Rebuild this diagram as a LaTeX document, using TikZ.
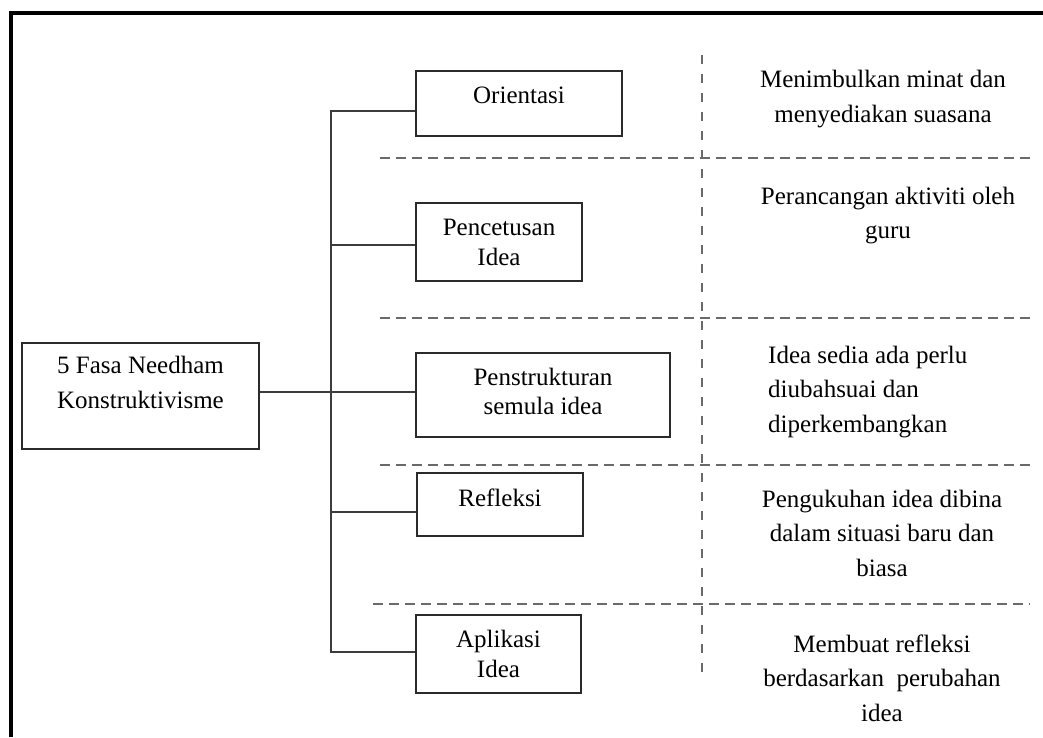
\documentclass[tikz,border=0pt]{standalone}
\usepackage{fontspec}
\setmainfont{Liberation Serif}
\definecolor{boxc}{HTML}{2A2A2A}
\definecolor{connc}{HTML}{3C3C3C}
\definecolor{dashc}{HTML}{6A6A6A}
\tikzset{
  box/.style={draw=boxc, line width=1.8pt, inner sep=0pt, fill=none},
  conn/.style={draw=connc, line width=1.8pt},
  hdash/.style={draw=dashc, line width=2.4pt, dash pattern=on 10pt off 6pt},
  vdash/.style={draw=dashc, line width=2pt, dash pattern=on 9pt off 10pt},
  btxt/.style={font=\fontsize{25}{29.5}\selectfont, inner sep=0pt, align=center},
  rtxt/.style={font=\fontsize{25}{34.5}\selectfont, inner sep=0pt, align=center},
  frame/.style={draw=black, line width=4pt}
}
\begin{document}
\begin{tikzpicture}[x=1pt,y=-1pt]
\useasboundingbox (0,0) rectangle (1043,737);
% frame (top and left)
\coordinate (f1) at (11,737);
\coordinate (f2) at (11,13);
\coordinate (f3) at (1043,13);
\draw[frame] (f1) -- (f2) -- (f3);

% boxes
\node[box, minimum width=237pt, minimum height=106pt] (root) at (140.5,396) {};
\node[btxt, font=\fontsize{25}{35}\selectfont] (rootT) at (140.5,382.5) {5 Fasa Needham\\Konstruktivisme};

\node[box, minimum width=206pt, minimum height=65pt] (ori) at (519,103.5) {};
\node[btxt] (oriT) at (519,95) {Orientasi};

\node[box, minimum width=166pt, minimum height=78pt] (pen) at (499,242) {};
\node[btxt] (penT) at (499,242.5) {Pencetusan\\Idea};

\node[box, minimum width=254pt, minimum height=84pt] (pens) at (543,395) {};
\node[btxt] (pensT) at (543,391.5) {Penstrukturan\\semula idea};

\node[box, minimum width=166pt, minimum height=63pt] (ref) at (500,504.5) {};
\node[btxt] (refT) at (500,498) {Refleksi};

\node[box, minimum width=165pt, minimum height=78pt] (apl) at (498.5,654) {};
\node[btxt] (aplT) at (498.5,654) {Aplikasi\\Idea};

% trunk and branches
\coordinate (b1) at (331,111);
\coordinate (b2) at (331,245);
\coordinate (b3) at (331,392);
\coordinate (b4) at (331,512);
\coordinate (b5) at (331,652);
\draw[conn] (ori.west |- b1) -- (b1) -- (b5) -- (apl.west |- b5);
\draw[conn] (b2) -- (pen.west |- b2);
\draw[conn] (root.east |- b3) -- (pens.west |- b3);
\draw[conn] (b4) -- (ref.west |- b4);

% dashed separators
\coordinate (d1a) at (380,158);  \coordinate (d1b) at (1030,158);
\coordinate (d2a) at (380,318);  \coordinate (d2b) at (1030,318);
\coordinate (d3a) at (380,465);  \coordinate (d3b) at (1030,465);
\coordinate (d4a) at (373,604);  \coordinate (d4b) at (1030,604);
\coordinate (va) at (702,55);    \coordinate (vb) at (702,677);
\draw[hdash] (d1a) -- (d1b);
\draw[hdash] (d2a) -- (d2b);
\draw[hdash] (d3a) -- (d3b);
\draw[hdash] (d4a) -- (d4b);
\draw[vdash] (va) -- (vb);

% right-hand descriptions
\node[rtxt] (t1) at (883,99) {Menimbulkan minat dan\\menyediakan suasana};
\node[rtxt] (t2) at (888,215.5) {Perancangan aktiviti oleh\\guru};
\node[rtxt, align=left, anchor=west] (t3) at (768,392) {Idea sedia ada perlu\\diubahsuai dan\\diperkembangkan};
\node[rtxt] (t4) at (882,533) {Pengukuhan idea dibina\\dalam situasi baru dan\\biasa};
\node[rtxt] (t5) at (882,678) {Membuat refleksi\\berdasarkan\ \ perubahan\\idea};
\end{tikzpicture}
\end{document}
